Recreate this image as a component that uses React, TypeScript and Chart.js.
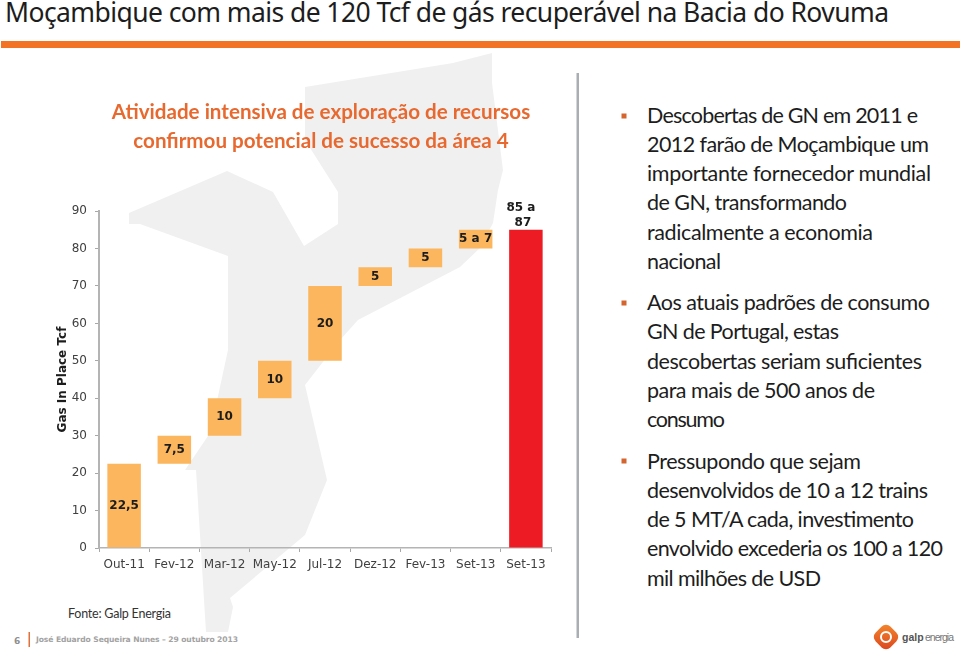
import React, { useEffect, useRef } from "react";
import { Chart, registerables } from "chart.js";

Chart.register(...registerables);

const categories = ["Out-11", "Fev-12", "Mar-12", "May-12", "Jul-12", "Dez-12", "Fev-13", "Set-13", "Set-13"];
const barStarts = [0, 22.5, 30, 40, 50, 70, 75, 80, 0];
const barEnds = [22.5, 30, 40, 50, 70, 75, 80, 85, 85];
const barLabels = ["22,5", "7,5", "10", "10", "20", "5", "5", "5 a 7", "85 a|87"];
const heading = ["Atividade intensiva de exploração de recursos", "confirmou potencial de sucesso da área 4"];
const axisTitle = "Gas In Place Tcf";

const slideTitle = "Moçambique com mais de 120 Tcf de gás recuperável na Bacia do Rovuma";
const bulletOne = ["Descobertas de GN em 2011 e", "2012 farão de Moçambique um", "importante fornecedor mundial", "de GN, transformando", "radicalmente a economia", "nacional"];
const bulletOneEnds = [918, 929, 931, 847, 873, 721];
const bulletTwo = ["Aos atuais padrões de consumo", "GN de Portugal, estas", "descobertas seriam suficientes", "para mais de 500 anos de", "consumo"];
const bulletTwoEnds = [930, 839, 922, 875, 725];
const bulletThree = ["Pressupondo que sejam", "desenvolvidos de 10 a 12 trains", "de 5 MT/A cada, investimento", "envolvido excederia os 100 a 120", "mil milhões de USD"];
const bulletThreeEnds = [861, 928, 914, 943, 821];

const MAP_PATH =
  "M492,53 L492,83 L503,170 L498,190 L493,223 L480,248 L460,267 L358,320 L340,340 L305,385 L327,480 L305,535 L230,598 L233,607 L228,632 L206,632 L196,470 L185,470 L210,433 L228,350 L228,256 L140,224 L129,224 L129,213 L227,171 L273,192 L304,246 L338,224 L338,192 L305,140 L305,87 L453,63 Z";

const labelPlugin = {
  id: "barValueLabels",
  afterLayout(chart: any) {
    // the heading sits 4px left of the plot's centre in the reference
    chart.titleBlock.left -= 8;
  },
  afterDatasetsDraw(chart: any) {
    const { ctx } = chart;
    const bars = chart.getDatasetMeta(0).data;
    ctx.save();
    ctx.font = "bold 12px 'DejaVu Sans'";
    ctx.fillStyle = "#1c1c1c";
    ctx.textAlign = "center";
    ctx.textBaseline = "middle";
    bars.forEach((bar: any, i: number) => {
      const parts = barLabels[i].split("|");
      if (parts.length > 1) {
        ctx.fillText(parts[0], bar.x - 5, bar.y - 22);
        ctx.fillText(parts[1], bar.x - 3, bar.y - 7);
      } else {
        ctx.fillText(parts[0], bar.x, (bar.y + bar.base) / 2);
      }
    });
    ctx.restore();
  },
};

function TextBlock({ lines, ends, start }: { lines: string[]; ends: number[]; start: number }) {
  return (
    <>
      {lines.map((t, i) => (
        <text key={i} x={647} y={start + i * 29.25} textLength={ends[i] - 647} fontFamily="Lato" fontSize={21.5} fill="#1d1d1d">
          {t}
        </text>
      ))}
    </>
  );
}

export default function App() {
  const ref = useRef<HTMLCanvasElement | null>(null);

  useEffect(() => {
    const chart = new Chart(ref.current as HTMLCanvasElement, {
      type: "bar",
      data: {
        labels: categories,
        datasets: [
          {
            data: barStarts.map((s, i) => [s, barEnds[i]]) as any,
            backgroundColor: (c: any) => (c.dataIndex === categories.length - 1 ? "#ed1c24" : "#fbb65e"),
            barPercentage: 0.667,
            categoryPercentage: 1,
          },
        ],
      },
      options: {
        animation: false,
        responsive: false,
        layout: { padding: { left: 52, right: 409, top: 0, bottom: 73 } },
        plugins: {
          legend: { display: false },
          tooltip: { enabled: false },
          title: {
            display: true,
            text: heading,
            fullSize: false,
            color: "#e8692f",
            font: { family: "Lato", size: 20.6, weight: "bold", lineHeight: 1.41 },
            padding: { top: 98, bottom: 55 },
          },
        },
        scales: {
          x: {
            afterFit: (s: any) => {
              s.height = 32;
            },
            border: { color: "#b4b4b4", width: 1.5 },
            grid: { drawOnChartArea: false, color: "#a8a8a8", tickLength: 4 },
            ticks: {
              autoSkip: false,
              maxRotation: 0,
              padding: 6,
              color: "#404040",
              font: { family: "DejaVu Sans", size: 12 },
            },
          },
          y: {
            min: 0,
            max: 90,
            afterFit: (s: any) => {
              s.width = 47;
            },
            border: { color: "#b4b4b4", width: 2 },
            grid: { drawOnChartArea: false, color: "#a8a8a8", tickLength: 4 },
            ticks: {
              stepSize: 10,
              padding: 8,
              color: "#404040",
              font: { family: "DejaVu Sans", size: 12 },
            },
            title: {
              display: true,
              text: axisTitle,
              color: "#1c1c1c",
              font: { family: "DejaVu Sans", size: 12, weight: "bold" },
            },
          },
        },
      },
      plugins: [labelPlugin],
    } as any);
    return () => chart.destroy();
  }, []);

  return (
    <div style={{ position: "relative", width: 960, height: 653, overflow: "hidden", background: "#fff" }}>
      <style>{"html,body{margin:0;padding:0;background:#fff}"}</style>
      <svg width={960} height={653} style={{ position: "absolute", left: 0, top: 0 }}>
        <defs>
          <linearGradient id="logoFill" x1="0" y1="0" x2="1" y2="1">
            <stop offset="0" stopColor="#f58a2c" />
            <stop offset="1" stopColor="#d9431e" />
          </linearGradient>
        </defs>
        <path d={MAP_PATH} fill="#f0f0f1" />
        <text x={5} y={22} textLength={884} fontFamily="Noto Sans" fontSize={26.5} fill="#1d1d1d">
          {slideTitle}
        </text>
        <rect x={1} y={41} width={959} height={7} fill="#f37325" />
        <rect x={576.5} y={73} width={2.5} height={565} fill="#a9aeb3" />
        {[116, 303, 461].map((y) => (
          <rect key={y} x={621.5} y={y - 2.5} width={5} height={5} fill="#d4652f" />
        ))}
        <TextBlock lines={bulletOne} ends={bulletOneEnds} start={122.5} />
        <TextBlock lines={bulletTwo} ends={bulletTwoEnds} start={310} />
        <TextBlock lines={bulletThree} ends={bulletThreeEnds} start={468.5} />
        <text x={68} y={618} textLength={103} fontFamily="Lato" fontSize={12.5} fill="#333">
          Fonte: Galp Energia
        </text>
        <text x={14} y={644} fontFamily="DejaVu Sans" fontWeight="bold" fontSize={9} fill="#8f8f8f">
          6
        </text>
        <rect x={28.5} y={632} width={1.5} height={15} fill="#e2703a" />
        <text x={36} y={642} textLength={202} fontFamily="DejaVu Sans" fontWeight="bold" fontSize={7.6} fill="#a3a3a3">
          José Eduardo Sequeira Nunes – 29 outubro 2013
        </text>
        <rect x={875.5} y={626.5} width={21} height={21} rx={6.5} fill="url(#logoFill)" transform="rotate(45 886 637)" />
        <circle cx={886} cy={637} r={5} fill="none" stroke="#fff" strokeWidth={2} />
        <text x={902} y={641} fontFamily="Liberation Sans" fontWeight="bold" fontSize={10.5} fill="#555">
          galp
        </text>
        <text x={925} y={641} fontFamily="Liberation Sans" fontSize={10.5} fill="#777" textLength={29}>
          energia
        </text>
      </svg>
      <canvas ref={ref} width={960} height={653} style={{ position: "absolute", left: 0, top: 0 }} />
    </div>
  );
}
